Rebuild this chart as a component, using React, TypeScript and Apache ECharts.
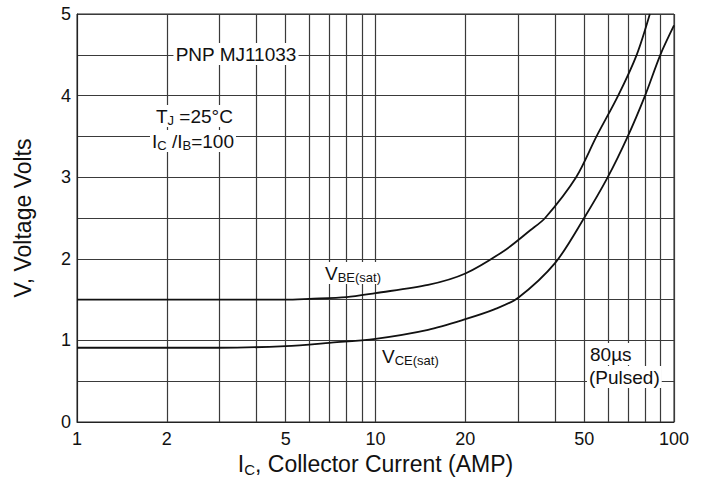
import React, { useEffect, useRef } from "react";
import * as echarts from "echarts";

// ---- data ----
const vbeCurrent = [1, 2, 3, 5, 6, 8, 10, 15, 20, 27, 33, 37, 47, 55, 65, 75, 83];
const vbeVolts = [1.5, 1.5, 1.5, 1.5, 1.51, 1.53, 1.58, 1.68, 1.82, 2.1, 2.35, 2.5, 3.0, 3.5, 4.0, 4.5, 5.0];

const vceCurrent = [1, 3, 5, 7, 10, 15, 20, 25, 30, 40, 50, 60, 70, 80, 90, 100];
const vceVolts = [0.91, 0.91, 0.93, 0.97, 1.02, 1.13, 1.26, 1.38, 1.52, 1.95, 2.5, 3.0, 3.5, 4.0, 4.5, 4.86];

// log-decade grid lines between the major ticks
const minorGridCurrents = [2, 3, 4, 5, 6, 7, 8, 9, 20, 30, 40, 50, 60, 70, 80, 90];
// extra tick labels shown on the current axis
const extraTickLabels = [2, 5, 20, 50];

const xMin = 1;
const xMax = 100;
const yMin = 0;
const yMax = 5;

const FONT = '"Liberation Sans", Arial, Helvetica, sans-serif';
const GRID_COLOR = "#3a3a3a";

export default function App() {
  const ref = useRef<HTMLDivElement>(null);

  useEffect(() => {
    if (!ref.current) return;
    const chart = echarts.init(ref.current, undefined, { renderer: "svg" });

    const richG = {
      n: { fontSize: 19, fontFamily: FONT, fill: "#111", lineHeight: 22 },
      s: { fontSize: 13, fontFamily: FONT, fill: "#111", lineHeight: 12, verticalAlign: "bottom" },
    };

    const textEl = (x: number, y: number, text: string, align: string = "left") => ({
      type: "text",
      x,
      y,
      z: 50,
      style: {
        text,
        rich: richG,
        fill: "#111",
        font: `19px ${FONT}`,
        align,
        verticalAlign: "middle",
        backgroundColor: "#fff",
        padding: [0, 2],
      },
    });

    const option: any = {
      animation: false,
      backgroundColor: "#fff",
      grid: {
        left: 77,
        right: 36,
        top: 14,
        bottom: 63,
        show: true,
        borderColor: "#222",
        borderWidth: 1,
        backgroundColor: "transparent",
      },
      xAxis: {
        type: "log",
        logBase: 10,
        min: xMin,
        max: xMax,
        name: "{a|I}{s|C}{a|, Collector Current (AMP)}",
        nameLocation: "middle",
        nameGap: 27,
        nameTextStyle: {
          rich: {
            a: { fontSize: 23, fontFamily: FONT, color: "#111", lineHeight: 26 },
            s: { fontSize: 15, fontFamily: FONT, color: "#111", lineHeight: 14, verticalAlign: "bottom" },
          },
        },
        axisLine: { show: true, lineStyle: { color: "#222", width: 1 } },
        axisTick: { show: false },
        axisLabel: { fontSize: 18, fontFamily: FONT, color: "#111", margin: 8 },
        splitLine: { show: true, lineStyle: { color: GRID_COLOR, width: 1.2 } },
        minorTick: { show: false },
      },
      yAxis: {
        type: "value",
        min: yMin,
        max: yMax,
        interval: 1,
        name: "V, Voltage Volts",
        nameLocation: "middle",
        nameGap: 43,
        nameTextStyle: { fontSize: 23, fontFamily: FONT, color: "#111" },
        axisLine: { show: true, lineStyle: { color: "#222", width: 1 } },
        axisTick: { show: false },
        axisLabel: { fontSize: 18, fontFamily: FONT, color: "#111", margin: 6 },
        splitLine: { show: true, lineStyle: { color: GRID_COLOR, width: 1.2 } },
        minorTick: { show: false, splitNumber: 2 },
        minorSplitLine: { show: true, lineStyle: { color: GRID_COLOR, width: 1.2 } },
      },
      series: [
        {
          name: "grid",
          type: "line",
          data: [],
          z: 1,
          silent: true,
          markLine: {
            silent: true,
            symbol: "none",
            animation: false,
            lineStyle: { color: GRID_COLOR, width: 1.2, type: "solid" },
            label: { show: false },
            emphasis: { disabled: true },
            data: minorGridCurrents.map((v) => ({
              xAxis: v,
              label: extraTickLabels.includes(v)
                ? {
                    show: true,
                    position: "start",
                    distance: 8,
                    formatter: String(v),
                    fontSize: 18,
                    fontFamily: FONT,
                    color: "#111",
                  }
                : { show: false },
            })),
          },
        },
        {
          name: "VBE(sat)",
          type: "line",
          z: 5,
          data: vbeCurrent.map((c, i) => [c, vbeVolts[i]]),
          showSymbol: false,
          smooth: 0.3,
          lineStyle: { color: "#111", width: 1.8 },
        },
        {
          name: "VCE(sat)",
          type: "line",
          z: 5,
          data: vceCurrent.map((c, i) => [c, vceVolts[i]]),
          showSymbol: false,
          smooth: 0.3,
          lineStyle: { color: "#111", width: 1.8 },
        },
      ],
      graphic: [
        textEl(236, 54, "{n|PNP MJ11033}", "center"),
        textEl(154, 116, "{n|T}{s|J}{n| =25°C}"),
        textEl(150, 141, "{n|I}{s|C}{n| /I}{s|B}{n|=100}"),
        textEl(323, 273, "{n|V}{s|BE(sat)}"),
        textEl(380, 356, "{n|V}{s|CE(sat)}"),
        textEl(588, 354, "{n|80µs}"),
        textEl(587, 377, "{n|(Pulsed)}"),
      ],
    };

    chart.setOption(option);
    return () => chart.dispose();
  }, []);

  return <div ref={ref} style={{ width: 710, height: 485, position: "absolute", left: 0, top: 0 }} />;
}
